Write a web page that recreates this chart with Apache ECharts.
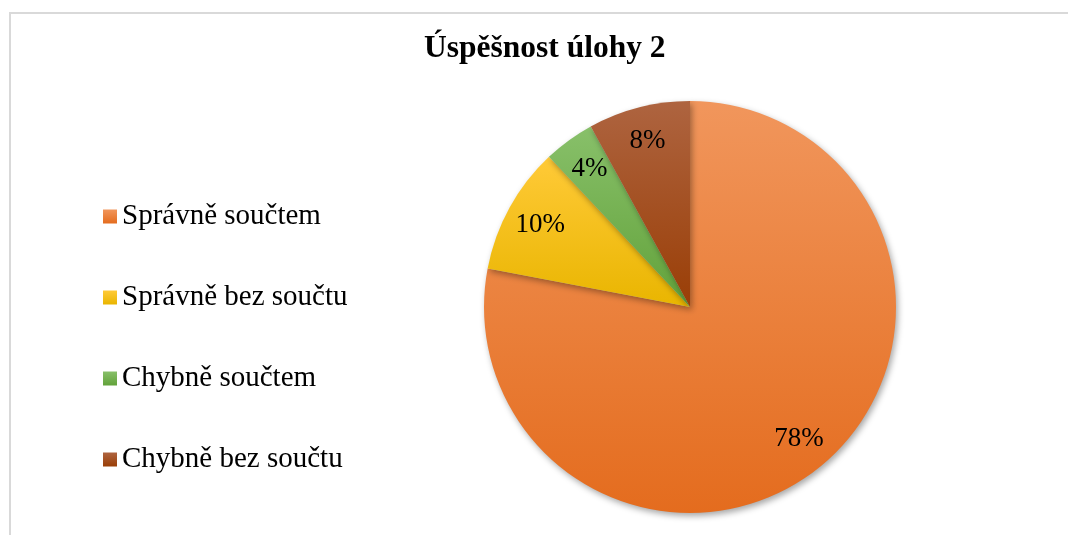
<!DOCTYPE html>
<html>
<head>
<meta charset="utf-8">
<script src="https://cdn.jsdelivr.net/npm/echarts@6/dist/echarts.min.js"></script>
<style>
  html, body { margin: 0; padding: 0; background: #fff; }
  #chart { width: 1068px; height: 535px; }
</style>
</head>
<body>
<div id="chart"></div>
<script>
  // data
  const categories = ['Správně součtem', 'Správně bez součtu', 'Chybně součtem', 'Chybně bez součtu']
  const shares = [78, 10, 4, 8]
  // gradient top / bottom per slice
  const topColors = ['#F1965C', '#FFCA38', '#88C06A', '#AE6440']
  const bottomColors = ['#E46C1E', '#E9B500', '#62A23A', '#9A3E06']

  const serif = '"Liberation Serif", "Times New Roman", serif'

  const chart = echarts.init(document.getElementById('chart'))

  const grad = (i) => new echarts.graphic.LinearGradient(0, 0, 0, 1, [
    { offset: 0, color: topColors[i] },
    { offset: 1, color: bottomColors[i] }
  ])

  chart.setOption({
    backgroundColor: '#fff',
    animation: false,
    title: {
      text: 'Úspěšnost úlohy 2',
      left: 424,
      top: 33,
      padding: 0,
      textStyle: {
        fontFamily: serif,
        fontSize: 31.5,
        fontWeight: 'bold',
        color: '#000'
      }
    },
    legend: {
      orient: 'vertical',
      left: 103,
      top: 202,
      padding: 0,
      itemWidth: 14,
      itemHeight: 14,
      itemGap: 52,
      icon: 'rect',
      data: categories,
      textStyle: {
        fontFamily: serif,
        fontSize: 29,
        lineHeight: 29,
        color: '#000'
      }
    },
    graphic: [{
      type: 'rect',
      shape: { x: 10, y: 13, width: 1100, height: 600 },
      style: { fill: 'none', stroke: '#d9d9d9', lineWidth: 2 },
      silent: true
    }],
    series: [
      {
        name: 'Úspěšnost',
        type: 'pie',
        center: [690, 307],
        radius: 206,
        startAngle: 90,
        clockwise: true,
        label: { show: false },
        labelLine: { show: false },
        emphasis: { scale: false },
        data: categories.map((c, i) => ({
          name: c,
          value: shares[i],
          itemStyle: {
            color: grad(i),
            shadowBlur: 6,
            shadowOffsetX: 2,
            shadowOffsetY: 3,
            shadowColor: 'rgba(0,0,0,0.35)'
          }
        }))
      },
      {
        // transparent ring only to place the percentage labels further out
        name: 'labels',
        type: 'pie',
        center: [690, 307],
        radius: [130, 206],
        startAngle: 90,
        clockwise: true,
        silent: true,
        legendHoverLink: false,
        itemStyle: { color: 'rgba(0,0,0,0)' },
        label: {
          show: true,
          position: 'inside',
          formatter: '{c}%',
          fontFamily: serif,
          fontSize: 27,
          color: '#000'
        },
        labelLine: { show: false },
        data: categories.map((c, i) => ({ name: c, value: shares[i] }))
      }
    ]
  })
</script>
</body>
</html>
